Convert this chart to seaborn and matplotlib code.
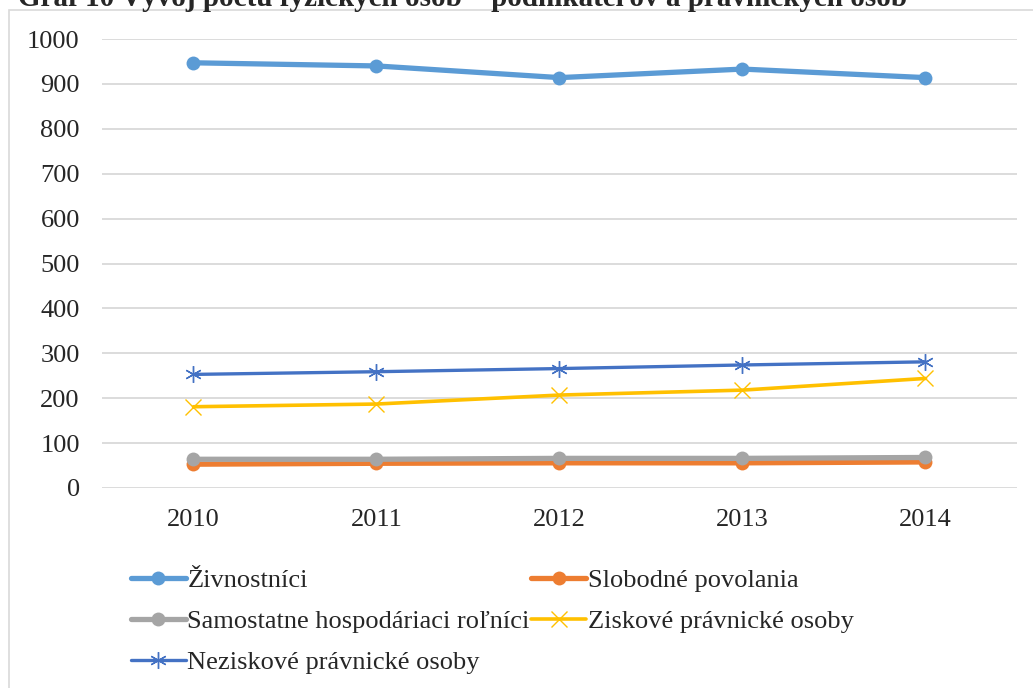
import numpy as np
import pandas as pd
import seaborn as sns
import matplotlib.pyplot as plt
from matplotlib.patches import Rectangle

# %% data
roky = [2010, 2011, 2012, 2013, 2014]
zivnostnici = [947, 940, 914, 933, 914]
slobodne_povolania = [53, 55, 56, 56, 58]
samostatne_rolnici = [64, 64, 66, 66, 68]
ziskove_po = [181, 187, 207, 218, 244]
neziskove_po = [253, 259, 266, 274, 281]

nazvy = ["Živnostníci", "Slobodné povolania", "Samostatne hospodáriaci roľníci",
         "Ziskové právnické osoby", "Neziskové právnické osoby"]
hodnoty = [zivnostnici, slobodne_povolania, samostatne_rolnici, ziskove_po, neziskove_po]
farby = ["#5B9BD5", "#ED7D31", "#A5A5A5", "#FFC000", "#4472C4"]
znacky = ["o", "o", "o", "x", (6, 2, 0)]
hrubky = [3.8, 3.8, 3.8, 2.6, 2.4]
velkosti = [10, 10, 10, 11, 12]

df = pd.DataFrame({"rok": roky})
for n, v in zip(nazvy, hodnoty):
    df[n] = v

# %% plot
sns.set_style("white")
plt.rcParams['font.family'] = ['Liberation Serif', 'DejaVu Serif']

fig = plt.figure(figsize=(10.33, 6.88), dpi=100)
ax = fig.add_axes([102 / 1033, 1 - 488 / 688, (1017 - 102) / 1033, (488 - 39) / 688])

for n, c, m, lw, ms in zip(nazvy, farby, znacky, hrubky, velkosti):
    sns.lineplot(data=df, x="rok", y=n, color=c, marker=m, linewidth=lw,
                 markersize=ms, markeredgecolor=c, markeredgewidth=1 if m != "o" else 0,
                 label=n, ax=ax)

ax.set_xlim(2009.5, 2014.5)
ax.set_ylim(0, 1000)
ax.set_xticks(roky)
ax.set_yticks(np.arange(0, 1001, 100))
ax.grid(axis="y", color="#D9D9D9", linewidth=1.3)
ax.set_axisbelow(True)
for s in ax.spines.values():
    s.set_visible(False)
ax.tick_params(axis="y", length=0, pad=16, labelsize=19)
ax.tick_params(axis="x", length=0, pad=15, labelsize=19)
ax.set_xlabel("")
ax.set_ylabel("")

# legend, Excel style row ordering
handles, labels = ax.get_legend_handles_labels()
ax.get_legend().remove()
order = [0, 2, 4, 1, 3]
fig.legend([handles[i] for i in order], [labels[i] for i in order],
           ncol=2, frameon=False, loc="upper left",
           bbox_to_anchor=(120 / 1033, 1 - 558 / 688),
           fontsize=19, handlelength=2.1, handletextpad=0.05,
           columnspacing=0.05, labelspacing=0.66, borderaxespad=0)

# chart frame and cut-off title
fig.patches.append(Rectangle((9 / 1033, -0.1), 1.2, 1 - 10 / 688 + 0.1,
                             transform=fig.transFigure, fill=False,
                             edgecolor="#D9D9D9", linewidth=1.2))
fig.text(18 / 1033, 1 - 6 / 688,
         "Graf 10 Vývoj počtu fyzických osôb – podnikateľov a právnických osôb",
         fontsize=21, fontweight="bold", va="baseline", ha="left")

fig.savefig("out.png", dpi=100)
